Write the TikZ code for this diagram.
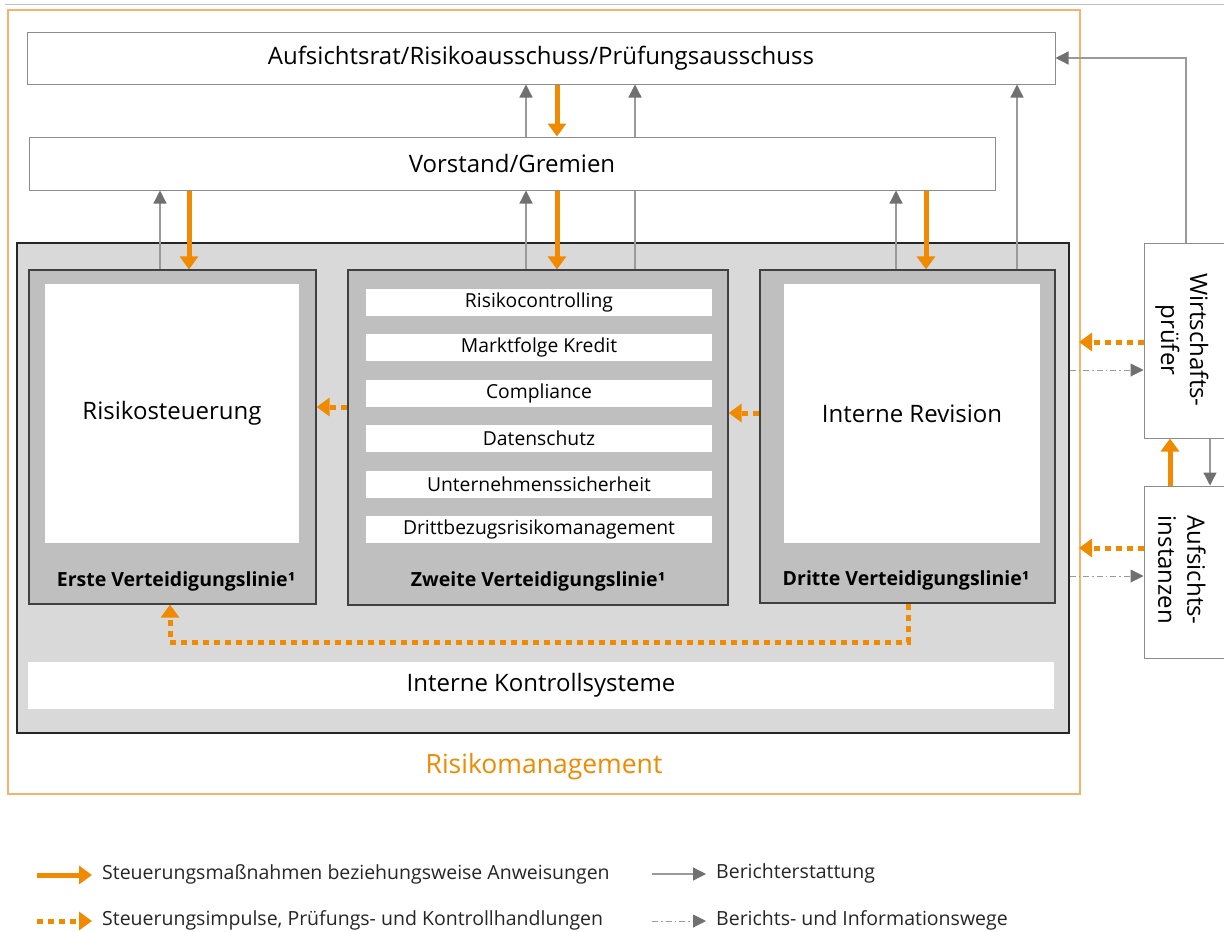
\documentclass[tikz,border=0pt]{standalone}
\usepackage{fontspec}
\setmainfont{Open Sans}
\usetikzlibrary{arrows.meta}
\definecolor{orng}{HTML}{F08A00}
\definecolor{orngline}{HTML}{F5B46E}
\definecolor{grayarrow}{HTML}{9A9A9A}
\definecolor{grayhead}{HTML}{707070}
\definecolor{boxline}{HTML}{8C8C8C}
\definecolor{areafill}{HTML}{D9D9D9}
\definecolor{linefill}{HTML}{BFBFBF}
\tikzset{
  bigfont/.style={font=\fontsize{24}{28}\selectfont},
  topbox/.style={draw=boxline, line width=1pt, fill=white, inner sep=0pt, bigfont},
  linebox/.style={draw=black!75, line width=1.2pt, fill=linefill, inner sep=0pt},
  whitebox/.style={fill=white, draw=none, inner sep=0pt},
  strip/.style={fill=white, draw=none, inner sep=0pt, minimum width=346, minimum height=27, font=\fontsize{19.3}{22}\selectfont},
  linelabel/.style={font=\bfseries\fontsize{19.5}{23}\selectfont, inner sep=0pt},
  sidebox/.style={draw=boxline, line width=1pt, fill=white, inner sep=0pt},
  sidetext/.style={rotate=-90, align=center, font=\fontsize{24}{29}\selectfont, inner sep=0pt},
  grayarr/.style={draw=grayarrow, line width=1.3pt, -{Triangle[length=13pt,width=13pt,fill=grayhead,color=grayhead]}},
  orarr/.style={draw=orng, line width=5pt, -{Triangle[length=13pt,width=18pt]}},
  ordot/.style={draw=orng, line width=5pt, dash pattern=on 6pt off 5pt, -{Triangle[length=13pt,width=18pt,fill=orng]}},
  dasharr/.style={draw=grayarrow, line width=1pt, dash pattern=on 6pt off 3pt on 1.5pt off 3pt, -{Triangle[length=13pt,width=13pt,fill=grayhead,color=grayhead]}},
  legtext/.style={anchor=west, inner sep=0pt, font=\fontsize{19.5}{23}\selectfont, text=black!85},
}
\begin{document}
\begin{tikzpicture}[x=1pt,y=-1pt]
\useasboundingbox (0,0) rectangle (1224,932);
\clip (0,0) rectangle (1224,932);
\fill[white] (0,0) rectangle (1224,932);
% top thin line
\draw[black!25, line width=0.8pt] (5,4) -- (1224,4);
% outer orange frame
\draw[orngline, line width=1.2pt] (8,10) rectangle (1080,794);
\node[text=orng, font=\fontsize{26.5}{30}\selectfont, inner sep=0pt] (rm) at (544,767) {Risikomanagement};

% top boxes
\node[topbox, minimum width=1028, minimum height=52] (aufs) at (541,58) {Aufsichtsrat/Risikoausschuss/Prüfungsausschuss};

% risk area
\node[draw=black!85, line width=1.2pt, fill=areafill, minimum width=1052, minimum height=490, inner sep=0pt] (area) at (543,488) {};

% line passing through Vorstand (drawn before it)
\draw[grayarr] (635,270) -- (aufs.south -| 635,0);

\node[topbox, minimum width=966, minimum height=53] (vor) at (512,163.5) {Vorstand/Gremien};

% three lines of defence
\node[linebox, minimum width=287, minimum height=334] (b1) at (172.5,437) {};
\node[whitebox, minimum width=254, minimum height=259, bigfont] (i1) at (172,413.5) {Risikosteuerung};
\node[linelabel] (l1) at (176,581) {Erste Verteidigungslinie¹};

\node[linebox, minimum width=380, minimum height=335] (b2) at (538,437.5) {};
\node[strip] (s1) at (539,302) {Risikocontrolling};
\node[strip] (s2) at (539,347.5) {Marktfolge Kredit};
\node[strip] (s3) at (539,393.5) {Compliance};
\node[strip] (s4) at (539,438.5) {Datenschutz};
\node[strip] (s5) at (539,484) {Unternehmenssicherheit};
\node[strip] (s6) at (539,529.5) {Drittbezugsrisikomanagement};
\node[linelabel] (l2) at (538,581) {Zweite Verteidigungslinie¹};

\node[linebox, minimum width=295, minimum height=333] (b3) at (907.5,436.5) {};
\node[whitebox, minimum width=256, minimum height=259, bigfont] (i3) at (912,413.5) {Interne Revision};
\node[linelabel] (l3) at (906,580) {Dritte Verteidigungslinie¹};

\node[whitebox, minimum width=1026, minimum height=47, bigfont] (iks) at (541,685.5) {Interne Kontrollsysteme};

% side boxes
\node[sidebox, minimum width=90, minimum height=195] (wp) at (1189,340.5) {};
\node[sidetext] (wpt) at (1182,340) {Wirtschafts-\\prüfer};
\node[sidebox, minimum width=90, minimum height=172] (ai) at (1189,572) {};
\node[sidetext] (ait) at (1182,570) {Aufsichts-\\instanzen};

% reporting arrows
\draw[grayarr] (vor.north -| 526,0) -- (aufs.south -| 526,0);
\draw[grayarr] (b1.north -| 160,0) -- (vor.south -| 160,0);
\draw[grayarr] (b2.north -| 526,0) -- (vor.south -| 526,0);
\draw[grayarr] (b3.north -| 896,0) -- (vor.south -| 896,0);
\draw[grayarr] (b3.north -| 1017,0) -- (aufs.south -| 1017,0);
\draw[grayarr] (wp.north -| 1186,0) |- (aufs.east);
\draw[grayarr] (wp.south -| 1210,0) -- (ai.north -| 1210,0);

% instruction arrows
\draw[orarr] (aufs.south -| 557,0) -- (vor.north -| 557,0);
\draw[orarr] (vor.south -| 189,0) -- (b1.north -| 189,0);
\draw[orarr] (vor.south -| 557,0) -- (b2.north -| 557,0);
\draw[orarr] (vor.south -| 926,0) -- (b3.north -| 926,0);
\draw[orarr] (ai.north -| 1170,0) -- (wp.south -| 1170,0);

% control impulses
\draw[ordot] (b2.west |- 0,407) -- (b1.east |- 0,407);
\draw[ordot] (b3.west |- 0,413) -- (b2.east |- 0,413);
\coordinate (c1) at (908,642);
\draw[ordot] (b3.south -| c1) -- (c1) -| (b1.south -| 170,0);
\coordinate (c2) at (1079,342);
\coordinate (c3) at (1079,548);
\draw[ordot] (wp.west |- c2) -- (c2);
\draw[ordot] (ai.west |- c3) -- (c3);

% information paths
\draw[dasharr] (area.east |- 0,370) -- (wp.west |- 0,370);
\draw[dasharr] (area.east |- 0,576) -- (ai.west |- 0,576);

% legend
\coordinate (la1) at (37,875); \coordinate (la2) at (92,875);
\draw[orarr] (la1) -- (la2);
\node[legtext] (lt1) at (102,874) {Steuerungsmaßnahmen beziehungsweise Anweisungen};
\coordinate (lb1) at (37,921); \coordinate (lb2) at (92,921);
\draw[ordot] (lb1) -- (lb2);
\node[legtext] (lt2) at (102,920) {Steuerungsimpulse, Prüfungs- und Kontrollhandlungen};
\coordinate (lc1) at (652,874); \coordinate (lc2) at (706,874);
\draw[grayarr] (lc1) -- (lc2);
\node[legtext] (lt3) at (716,873) {Berichterstattung};
\coordinate (ld1) at (652,921); \coordinate (ld2) at (706,921);
\draw[dasharr] (ld1) -- (ld2);
\node[legtext] (lt4) at (716,920) {Berichts- und Informationswege};
\end{tikzpicture}
\end{document}
